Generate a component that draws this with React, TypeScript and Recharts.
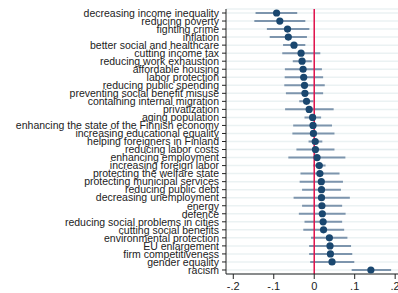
import React from "react";
import { ComposedChart, Bar, Line, XAxis, YAxis, CartesianGrid, ReferenceLine } from "recharts";

const categories = [
  "decreasing income inequality",
  "reducing poverty",
  "fighting crime",
  "inflation",
  "better social and healthcare",
  "cutting income tax",
  "reducing work exhaustion",
  "affordable housing",
  "labor protection",
  "reducing public spending",
  "preventing social benefit misuse",
  "containing internal migration",
  "privatization",
  "aging population",
  "enhancing the state of the Finnish economy",
  "increasing educational equality",
  "helping foreigners in Finland",
  "reducing labor costs",
  "enhancing employment",
  "increasing foreign labor",
  "protecting the welfare state",
  "protecting municipal services",
  "reducing public debt",
  "decreasing unemployment",
  "energy",
  "defence",
  "reducing social problems in cities",
  "cutting social benefits",
  "environmental protection",
  "EU enlargement",
  "firm competitiveness",
  "gender equality",
  "racism",
];

const estimates = [
  -0.093, -0.085, -0.066, -0.064, -0.05, -0.0325, -0.03, -0.0275, -0.026, -0.024, -0.023,
  -0.019, -0.0125, -0.004, -0.003, -0.002, 0.0025, 0.003, 0.007, 0.0125, 0.014, 0.0175,
  0.018, 0.018, 0.019, 0.02, 0.022, 0.023, 0.0375, 0.039, 0.04, 0.044, 0.14,
];

const lower = [
  -0.145, -0.148, -0.117, -0.11, -0.077, -0.079, -0.053, -0.0725, -0.073, -0.074, -0.07,
  -0.037, -0.072, -0.024, -0.052, -0.054, -0.014, -0.044, -0.064, -0.0025, -0.034, -0.036,
  -0.03, -0.051, -0.03, -0.038, -0.024, -0.027, -0.008, -0.0125, -0.0125, -0.01, 0.0925,
];

const upper = [
  -0.042, -0.022, -0.012, -0.018, -0.022, 0.015, -0.006, 0.019, 0.022, 0.026, 0.022,
  -0.002, 0.048, 0.017, 0.044, 0.05, 0.02, 0.05, 0.077, 0.028, 0.0625, 0.071,
  0.066, 0.088, 0.069, 0.0775, 0.069, 0.074, 0.082, 0.091, 0.094, 0.099, 0.19,
];

const xTicks = [-0.2, -0.1, 0, 0.1, 0.2];

const data = categories.map((name, i) => ({
  name,
  est: estimates[i],
  ci: [lower[i], upper[i]],
}));

const fmt = (v: number) => {
  if (Math.abs(v) < 1e-9) return "0";
  const s = Math.abs(v).toFixed(1).replace(/^0/, "");
  return (v < 0 ? "-" : "") + s;
};

const font = "'Liberation Sans', Arial, sans-serif";

const YTick = (props: any) => {
  const { x, y, payload } = props;
  return (
    <text
      x={x - 1}
      y={y}
      dy="0.36em"
      textAnchor="end"
      fill="#222"
      fontSize={10.5}
      fontFamily={font}
    >
      {payload.value}
    </text>
  );
};

const XTick = (props: any) => {
  const { x, y, payload } = props;
  return (
    <text
      x={x}
      y={y}
      dy="0.95em"
      textAnchor="middle"
      fill="#222"
      fontSize={11}
      fontFamily={font}
    >
      {fmt(payload.value)}
    </text>
  );
};

export default function App() {
  return (
    <div style={{ position: "absolute", left: 8, top: 8, width: 390, height: 285, overflow: "hidden" }}>
      <ComposedChart
        width={390}
        height={285}
        data={data}
        layout="vertical"
        margin={{ top: 1, right: 0, bottom: 0, left: 0 }}
        barCategoryGap={0}
      >
        <CartesianGrid horizontal={true} vertical={false} stroke="#ebf2f3" strokeWidth={1.5} />
        <XAxis
          type="number"
          domain={[-0.218, 0.207]}
          allowDataOverflow
          ticks={xTicks}
          interval={0}
          height={19}
          tickSize={5}
          tickMargin={1}
          stroke="#222"
          tick={<XTick />}
        />
        <YAxis
          type="category"
          dataKey="name"
          width={218}
          interval={0}
          tickSize={4}
          tickMargin={2}
          stroke="#222"
          tick={<YTick />}
        />
        <ReferenceLine x={0} stroke="#e0104a" strokeWidth={1.5} />
        <Bar dataKey="ci" fill="#7d95ad" barSize={2} isAnimationActive={false} />
        <Line
          dataKey="est"
          stroke="none"
          dot={{ r: 3.6, fill: "#1a476f", stroke: "#1a476f", strokeWidth: 0 }}
          activeDot={false}
          isAnimationActive={false}
        />
      </ComposedChart>
    </div>
  );
}
